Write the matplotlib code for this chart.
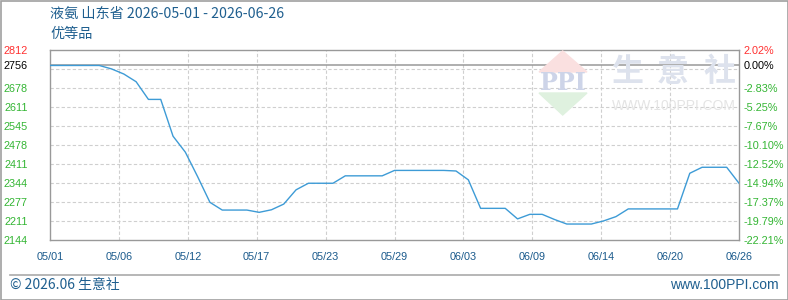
import numpy as np
import pandas as pd
import matplotlib
matplotlib.use('Agg')
import matplotlib.pyplot as plt
from matplotlib.patches import Polygon, Rectangle
from matplotlib.lines import Line2D

plt.rcParams['font.family'] = ['Noto Sans CJK SC', 'DejaVu Sans']

# daily price, 2026-05-01 .. 2026-06-26
dates = pd.date_range('2026-05-01', '2026-06-26', freq='D')
prices = [2756, 2756, 2756, 2756, 2756, 2744, 2726, 2699, 2637, 2637,
          2508, 2452, 2366, 2276, 2249, 2249, 2249, 2241, 2250, 2270,
          2320, 2343, 2343, 2343, 2369, 2369, 2369, 2369, 2388, 2388,
          2388, 2388, 2388, 2386, 2355, 2255, 2255, 2255, 2218, 2234,
          2234, 2216, 2200, 2200, 2200, 2211, 2226, 2253, 2253, 2253,
          2253, 2253, 2378, 2399, 2399, 2399, 2343]
base_price = 2756
y_top, y_bottom = 2812, 2144

left_labels = ['2812', '2756', '2678', '2611', '2545', '2478', '2411',
               '2344', '2277', '2211', '2144']
right_labels = ['2.02%', '0.00%', '-2.83%', '-5.25%', '-7.67%', '-10.10%',
                '-12.52%', '-14.94%', '-17.37%', '-19.79%', '-22.21%']
x_labels = ['05/01', '05/06', '05/12', '05/17', '05/23', '05/29',
            '06/03', '06/09', '06/14', '06/20', '06/26']

title = '液氨 山东省 2026-05-01 - 2026-06-26'
subtitle = '优等品'

W, H = 788, 300
fig = plt.figure(figsize=(W / 100, H / 100), dpi=100)

def fx(px):
    return px / W

def fy(py):
    return 1 - py / H

ax = fig.add_axes([fx(50), fy(240), fx(739) - fx(50), fy(49.5) - fy(240)])
ax.set_ylim(y_bottom, y_top)
ax.set_xlim(dates[0], dates[-1])

# grid
grid_vals = np.linspace(y_top, y_bottom, 11)
for g in grid_vals[1:-1]:
    ax.axhline(g, color='#cfcfcf', lw=0.8, ls=(0, (3, 2)), zorder=1)
span = dates[-1] - dates[0]
xticks = [dates[0] + span * k / 10 for k in range(11)]
for xt in xticks[1:-1]:
    ax.axvline(xt, color='#cfcfcf', lw=0.8, ls=(0, (3, 2)), zorder=1)

ax.axhline(base_price, color='#999999', lw=1.1, zorder=2)
ax.plot(dates, prices, color='#3d9bd6', lw=1.0, zorder=3)

for s in ax.spines.values():
    s.set_color('#999999')
    s.set_linewidth(1.0)

label_colors = ['#ff3030', '#000000'] + ['#33b533'] * 9
ytick_pos = [y_top, base_price] + list(grid_vals[2:])

ax.set_yticks(ytick_pos)
ax.set_yticklabels(left_labels, family='Liberation Sans', fontsize=7.8)
ax.tick_params(axis='y', length=0, pad=16)
for t, c in zip(ax.get_yticklabels(), label_colors):
    t.set_color(c)

ax.set_xticks(xticks)
ax.set_xticklabels(x_labels, family='Liberation Sans', fontsize=7.8, color='#1a5a8c')
ax.tick_params(axis='x', length=0, pad=9)

ax2 = ax.twinx()
ax2.set_ylim(y_bottom, y_top)
ax2.set_yticks(ytick_pos)
ax2.set_yticklabels(right_labels, family='Liberation Sans', fontsize=7.8)
ax2.tick_params(axis='y', length=0, pad=3)
for t, c in zip(ax2.get_yticklabels(), label_colors):
    t.set_color(c)
for s in ax2.spines.values():
    s.set_visible(False)

# titles
fig.text(fx(50), fy(14), title, fontsize=10.2, color='#1f5f8f', va='center', ha='left')
fig.text(fx(50), fy(34), subtitle, fontsize=10.2, color='#1f5f8f', va='center', ha='left')

# watermark
fig.patches.append(Polygon([[fx(562.7), fy(51)], [fx(539), fy(72)], [fx(587), fy(72)]],
                           closed=True, transform=fig.transFigure, color='#fae0e0', zorder=0))
fig.patches.append(Polygon([[fx(539), fy(93)], [fx(587), fy(93)], [fx(562.7), fy(115)]],
                           closed=True, transform=fig.transFigure, color='#dff1df', zorder=0))
fig.text(fx(563), fy(83), 'PPI', family='DejaVu Serif', fontweight='bold', fontsize=17,
         color='#cdd4e8', ha='center', va='center', zorder=0)
for ch, cx in zip('生意社', [627, 673, 720]):
    fig.text(fx(cx), fy(72), ch, fontsize=23, color='#dde2ed', ha='center', va='center',
             fontweight='bold', zorder=0)
fig.text(fx(674), fy(106), 'WWW.100PPI.COM', family='Liberation Sans', fontsize=10,
         color='#e4e4e4', ha='center', va='center', zorder=0)

# footer
fig.lines.append(Line2D([fx(10), fx(779)], [fy(275), fy(275)], transform=fig.transFigure,
                        color='#aaaaaa', lw=1.2))
fig.text(fx(10), fy(285), '© 2026.06 生意社', fontsize=10, color='#1f5f8f', va='center', ha='left')
fig.text(fx(779), fy(285), 'www.100PPI.com', family='Liberation Sans', fontsize=10,
         color='#1f5f8f', va='center', ha='right')

fig.patches.append(Rectangle((fx(0.5), fy(299.5)), fx(787), fy(0.5) - fy(299.5),
                             transform=fig.transFigure, fill=False, edgecolor='#a0a0a0', lw=1.2))

fig.savefig('out.png', dpi=100)
